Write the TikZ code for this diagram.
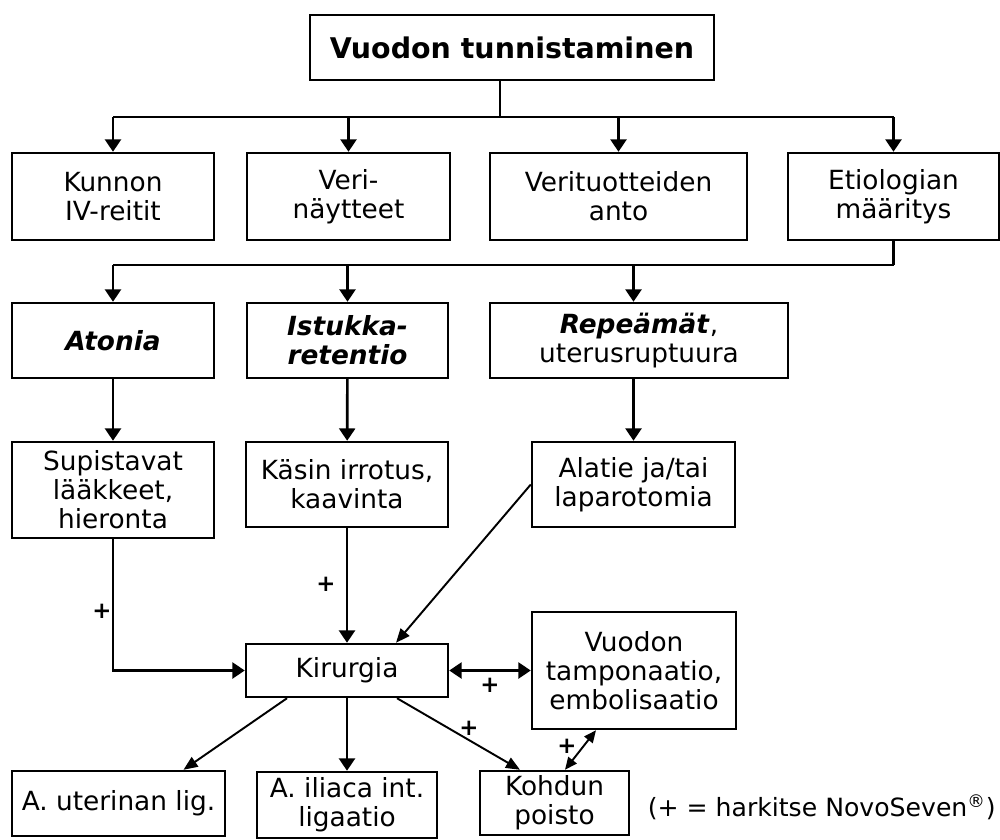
\documentclass[tikz,border=0pt]{standalone}
\usepackage{fontspec}
\setmainfont{DejaVu Sans}
\usetikzlibrary{arrows.meta, calc}
\tikzset{
  box/.style={draw=black, line width=1.4pt, fill=white, align=center, inner sep=2pt,
              font=\fontsize{15}{16.5}\selectfont},
  arr/.style={-{Triangle[length=7pt, width=9pt]}, line width=1.5pt},
  line/.style={line width=1.5pt},
  dblarr/.style={{Triangle[length=7pt, width=9pt]}-{Triangle[length=7pt, width=9pt]}, line width=1.5pt},
  thinarr/.style={-{Triangle[length=8pt, width=6.5pt]}, line width=1.1pt},
  thindbl/.style={{Triangle[length=7pt, width=6pt]}-{Triangle[length=7pt, width=6pt]}, line width=1.1pt},
  plus/.style={font=\bfseries\fontsize{13}{13}\selectfont, inner sep=0pt},
}

\begin{document}
\begin{tikzpicture}
\useasboundingbox (0,0) rectangle (20,-16.8);

\node[box, minimum width=8.08cm, minimum height=1.3cm,
      font=\bfseries\fontsize{16.2}{19}\selectfont] (title) at (10.24,-0.95) {Vuodon tunnistaminen};

\node[box, minimum width=4.04cm, minimum height=1.74cm] (kunnon) at (2.26,-3.93) {Kunnon\\IV-reitit};
\node[box, minimum width=4.06cm, minimum height=1.74cm] (veri) at (6.97,-3.93) {Veri-\\näytteet};
\node[box, minimum width=5.14cm, minimum height=1.74cm] (verituot) at (12.37,-3.93) {Verituotteiden\\anto};
\node[box, minimum width=4.22cm, minimum height=1.74cm] (etiol) at (17.87,-3.93) {Etiologian\\määritys};

\node[box, minimum width=4.04cm, minimum height=1.5cm] (atonia) at (2.26,-6.81) {\textbf{\textit{Atonia}}};
\node[box, minimum width=4.02cm, minimum height=1.5cm] (istukka) at (6.95,-6.81) {\textbf{\textit{Istukka-}}\\\textbf{\textit{retentio}}};
\node[box, minimum width=5.96cm, minimum height=1.5cm] (repeamat) at (12.78,-6.81) {\textbf{\textit{Repeämät}},\\uterusruptuura};

\node[box, minimum width=4.04cm, minimum height=1.92cm] (supist) at (2.26,-9.8) {Supistavat\\lääkkeet,\\hieronta};
\node[box, minimum width=4.04cm, minimum height=1.7cm] (kasin) at (6.94,-9.69) {Käsin irrotus,\\kaavinta};
\node[box, minimum width=4.06cm, minimum height=1.7cm] (alatie) at (12.67,-9.69) {Alatie ja/tai\\laparotomia};

\node[box, minimum width=4.04cm, minimum height=1.06cm] (kirurgia) at (6.94,-13.41) {Kirurgia};
\node[box, minimum width=4.08cm, minimum height=2.34cm] (vuodon) at (12.68,-13.41) {Vuodon\\tamponaatio,\\embolisaatio};

\node[box, minimum width=4.26cm, minimum height=1.3cm] (auter) at (2.37,-16.07) {A. uterinan lig.};
\node[box, minimum width=3.6cm, minimum height=1.32cm] (ailiaca) at (6.94,-16.1) {A. iliaca int.\\ligaatio};
\node[box, minimum width=2.98cm, minimum height=1.28cm] (kohdun) at (11.09,-16.06) {Kohdun\\poisto};
\node[font=\fontsize{14.3}{16}\selectfont, inner sep=0pt, anchor=east] (legend) at (19.92,-16.14) {(+ = harkitse NovoSeven\textsuperscript{®})};

\coordinate (bus1) at (10.0,-2.34);
\coordinate (bus2) at (17.87,-5.3);

\draw[line] (title.south -| bus1) -- (bus1);
\draw[line] (bus1 -| kunnon) -- (bus1 -| etiol);
\foreach \n in {kunnon, veri, verituot, etiol}
  \draw[arr] (bus1 -| \n) -- (\n);

\draw[line] (etiol.south) -- (bus2);
\draw[line] (bus2 -| atonia) -- (bus2);
\draw[arr] (bus2 -| atonia) -- (atonia);
\draw[arr] (bus2 -| istukka) -- (istukka);
\draw[arr] (bus2 -| alatie) -- (repeamat.north -| alatie);

\draw[arr] (atonia) -- (supist);
\draw[arr] (istukka) -- (kasin);
\draw[arr] (repeamat.south -| alatie) -- (alatie);

\draw[arr] (supist.south) |- (kirurgia.west);
\draw[arr] (kasin) -- (kirurgia);
\draw[thinarr] (alatie.west) -- ([xshift=0.98cm]kirurgia.north);
\draw[dblarr] (kirurgia.east) -- (vuodon.west);

\draw[thinarr] ([xshift=-1.2cm]kirurgia.south) -- ([xshift=1.3cm]auter.north);
\draw[arr] (kirurgia) -- (ailiaca);
\draw[thinarr] ([xshift=1cm]kirurgia.south) -- ([xshift=-0.69cm]kohdun.north);
\draw[thindbl] ([xshift=0.21cm]kohdun.north) -- ([xshift=-0.76cm]vuodon.south);

\node[plus] (p1) at (2.04,-12.22) {+};
\node[plus] (p2) at (6.52,-11.68) {+};
\node[plus] (p3) at (9.8,-13.7) {+};
\node[plus] (p4) at (9.38,-14.56) {+};
\node[plus] (p5) at (11.34,-14.92) {+};
\end{tikzpicture}
\end{document}
